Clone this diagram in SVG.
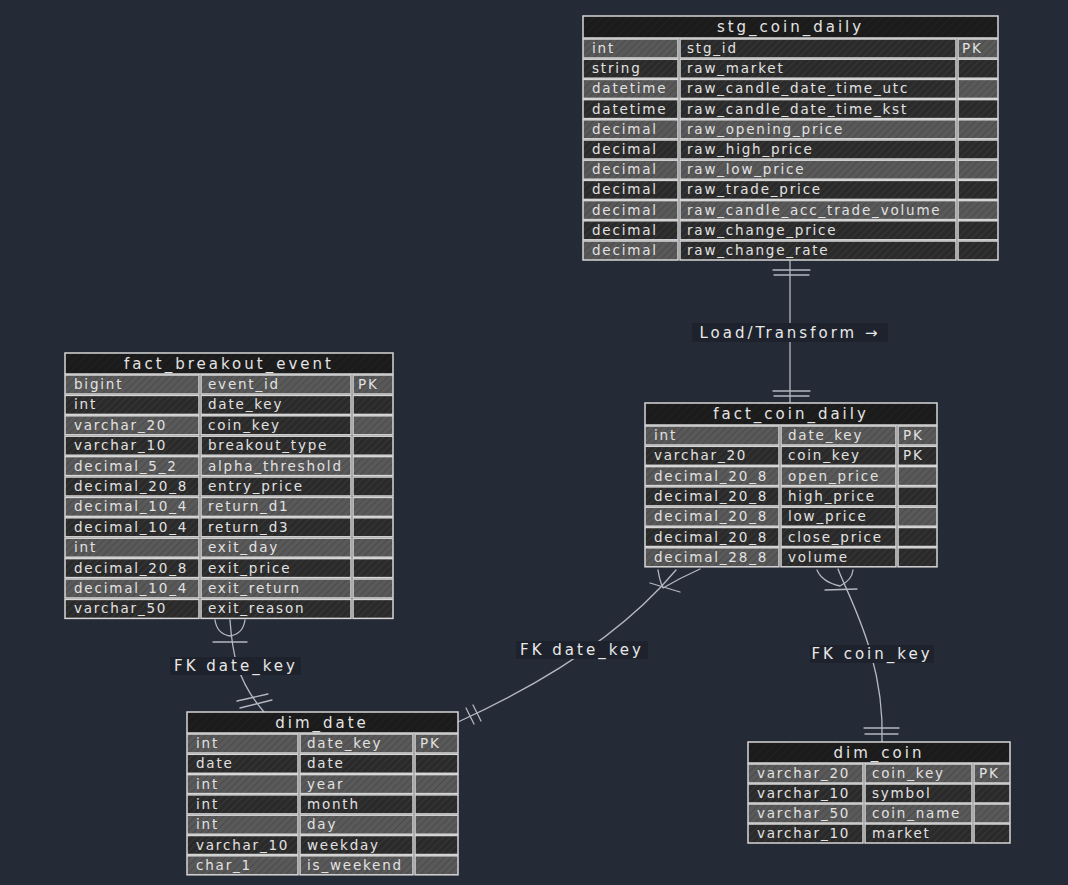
<svg xmlns="http://www.w3.org/2000/svg" width="1068" height="885" viewBox="0 0 1068 885">
<defs>
<pattern id="hl" patternUnits="userSpaceOnUse" width="5" height="5" patternTransform="rotate(45)"><rect width="5" height="5" fill="#595959"/><line x1="0" y1="0" x2="0" y2="5" stroke="#444444" stroke-width="1.4"/></pattern>
<pattern id="hd" patternUnits="userSpaceOnUse" width="5" height="5" patternTransform="rotate(45)"><rect width="5" height="5" fill="#2a2a2a"/><line x1="0" y1="0" x2="0" y2="5" stroke="#3d3d3d" stroke-width="1.3"/></pattern>
<pattern id="hh" patternUnits="userSpaceOnUse" width="6" height="6" patternTransform="rotate(45)"><rect width="6" height="6" fill="#1b1b1b"/><line x1="0" y1="0" x2="0" y2="6" stroke="#242424" stroke-width="1.2"/></pattern>
</defs>
<style>
.h{fill:url(#hh);stroke:#d6d6d6;stroke-width:1.5}
.l{fill:url(#hl);stroke:#d6d6d6;stroke-width:1.5}
.d{fill:url(#hd);stroke:#d6d6d6;stroke-width:1.5}
.t{font-family:"DejaVu Sans",sans-serif;font-size:13.5px;letter-spacing:1.8px;fill:#e2e2e2}
.th{font-family:"DejaVu Sans",sans-serif;font-size:15px;letter-spacing:3px;fill:#e4e4e4;text-anchor:middle}
.lb{font-family:"DejaVu Sans",sans-serif;font-size:15px;letter-spacing:3px;fill:#e8e8e8;text-anchor:middle}
.lbg{fill:#1e222c}
.c{fill:none;stroke:#b4b8c0;stroke-width:1.3;stroke-linecap:round}
</style>
<rect width="1068" height="885" fill="#252a37"/>

<g id="connectors">
<path class="c" d="M790,261 L790,403"/>
<path class="c" d="M773,270 H810 M774,275 H809 M773,391 H810 M774,396 H809"/>
<path class="c" d="M230,620 C232,650 236,680 264,712"/>
<path class="c" d="M215,620 Q217,634 230,636 Q243,634 245,620 M213,642 L247,642 M237,701 L268,694 M240,708 L272,700"/>
<path class="c" d="M676,570 Q605,655 458,722"/>
<path class="c" d="M658,570 Q660,582 663,588 M700,569 Q680,578 663,588 M650,583 L680,592 M466,708 L474,724 M473,705 L481,721"/>
<path class="c" d="M838,569 C850,600 885,660 882,742"/>
<path class="c" d="M817,570 Q822,582 840,586 M853,570 Q852,580 840,586 M825,590 L857,589 M864,728 L899,728 M865,734 L898,734"/>
<rect class="lbg" x="692" y="323" width="196" height="19"/>
<text class="lb" x="790" y="337.5">Load/Transform →</text>
<rect class="lbg" x="170" y="657" width="131" height="18"/>
<text class="lb" x="236" y="671">FK date_key</text>
<rect class="lbg" x="516" y="641" width="132" height="18"/>
<text class="lb" x="582" y="655">FK date_key</text>
<rect class="lbg" x="810" y="645" width="124" height="18"/>
<text class="lb" x="872" y="659">FK coin_key</text>
</g>

<g id="stg_coin_daily">
<rect class="h" x="583" y="16" width="415" height="22"/>
<text class="th" x="790.5" y="32">stg_coin_daily</text>
<rect class="l" x="583" y="39" width="95" height="19"/><rect class="d" x="680" y="39" width="276" height="19"/><rect class="l" x="958" y="39" width="40" height="19"/>
<text class="t" x="592" y="53">int</text><text class="t" x="687" y="53">stg_id</text><text class="t" x="962" y="53">PK</text>
<rect class="d" x="583" y="59.2" width="95" height="19"/><rect class="d" x="680" y="59.2" width="276" height="19"/><rect class="d" x="958" y="59.2" width="40" height="19"/>
<text class="t" x="592" y="73.2">string</text><text class="t" x="687" y="73.2">raw_market</text>
<rect class="l" x="583" y="79.4" width="95" height="19"/><rect class="d" x="680" y="79.4" width="276" height="19"/><rect class="l" x="958" y="79.4" width="40" height="19"/>
<text class="t" x="592" y="93.4">datetime</text><text class="t" x="687" y="93.4">raw_candle_date_time_utc</text>
<rect class="d" x="583" y="99.6" width="95" height="19"/><rect class="d" x="680" y="99.6" width="276" height="19"/><rect class="d" x="958" y="99.6" width="40" height="19"/>
<text class="t" x="592" y="113.6">datetime</text><text class="t" x="687" y="113.6">raw_candle_date_time_kst</text>
<rect class="l" x="583" y="119.8" width="95" height="19"/><rect class="l" x="680" y="119.8" width="276" height="19"/><rect class="l" x="958" y="119.8" width="40" height="19"/>
<text class="t" x="592" y="133.8">decimal</text><text class="t" x="687" y="133.8">raw_opening_price</text>
<rect class="d" x="583" y="140" width="95" height="19"/><rect class="d" x="680" y="140" width="276" height="19"/><rect class="d" x="958" y="140" width="40" height="19"/>
<text class="t" x="592" y="154">decimal</text><text class="t" x="687" y="154">raw_high_price</text>
<rect class="l" x="583" y="160.2" width="95" height="19"/><rect class="l" x="680" y="160.2" width="276" height="19"/><rect class="l" x="958" y="160.2" width="40" height="19"/>
<text class="t" x="592" y="174.2">decimal</text><text class="t" x="687" y="174.2">raw_low_price</text>
<rect class="d" x="583" y="180.4" width="95" height="19"/><rect class="d" x="680" y="180.4" width="276" height="19"/><rect class="d" x="958" y="180.4" width="40" height="19"/>
<text class="t" x="592" y="194.4">decimal</text><text class="t" x="687" y="194.4">raw_trade_price</text>
<rect class="l" x="583" y="200.6" width="95" height="19"/><rect class="l" x="680" y="200.6" width="276" height="19"/><rect class="l" x="958" y="200.6" width="40" height="19"/>
<text class="t" x="592" y="214.6">decimal</text><text class="t" x="687" y="214.6">raw_candle_acc_trade_volume</text>
<rect class="d" x="583" y="220.8" width="95" height="19"/><rect class="d" x="680" y="220.8" width="276" height="19"/><rect class="d" x="958" y="220.8" width="40" height="19"/>
<text class="t" x="592" y="234.8">decimal</text><text class="t" x="687" y="234.8">raw_change_price</text>
<rect class="l" x="583" y="241" width="95" height="19"/><rect class="d" x="680" y="241" width="276" height="19"/><rect class="d" x="958" y="241" width="40" height="19"/>
<text class="t" x="592" y="255">decimal</text><text class="t" x="687" y="255">raw_change_rate</text>
</g>

<g id="fact_breakout_event">
<rect class="h" x="65" y="353" width="328" height="21"/>
<text class="th" x="229" y="368.5">fact_breakout_event</text>
<rect class="l" x="65" y="375" width="134" height="19"/><rect class="l" x="201" y="375" width="150" height="19"/><rect class="l" x="353" y="375" width="40" height="19"/>
<text class="t" x="74" y="389">bigint</text><text class="t" x="208" y="389">event_id</text><text class="t" x="358" y="389">PK</text>
<rect class="d" x="65" y="395.4" width="134" height="19"/><rect class="d" x="201" y="395.4" width="150" height="19"/><rect class="d" x="353" y="395.4" width="40" height="19"/>
<text class="t" x="74" y="409.4">int</text><text class="t" x="208" y="409.4">date_key</text>
<rect class="l" x="65" y="415.8" width="134" height="19"/><rect class="d" x="201" y="415.8" width="150" height="19"/><rect class="l" x="353" y="415.8" width="40" height="19"/>
<text class="t" x="74" y="429.8">varchar_20</text><text class="t" x="208" y="429.8">coin_key</text>
<rect class="d" x="65" y="436.2" width="134" height="19"/><rect class="d" x="201" y="436.2" width="150" height="19"/><rect class="d" x="353" y="436.2" width="40" height="19"/>
<text class="t" x="74" y="450.2">varchar_10</text><text class="t" x="208" y="450.2">breakout_type</text>
<rect class="l" x="65" y="456.6" width="134" height="19"/><rect class="l" x="201" y="456.6" width="150" height="19"/><rect class="l" x="353" y="456.6" width="40" height="19"/>
<text class="t" x="74" y="470.6">decimal_5_2</text><text class="t" x="208" y="470.6">alpha_threshold</text>
<rect class="d" x="65" y="477" width="134" height="19"/><rect class="d" x="201" y="477" width="150" height="19"/><rect class="d" x="353" y="477" width="40" height="19"/>
<text class="t" x="74" y="491">decimal_20_8</text><text class="t" x="208" y="491">entry_price</text>
<rect class="l" x="65" y="497.4" width="134" height="19"/><rect class="l" x="201" y="497.4" width="150" height="19"/><rect class="l" x="353" y="497.4" width="40" height="19"/>
<text class="t" x="74" y="511.4">decimal_10_4</text><text class="t" x="208" y="511.4">return_d1</text>
<rect class="d" x="65" y="517.8" width="134" height="19"/><rect class="d" x="201" y="517.8" width="150" height="19"/><rect class="d" x="353" y="517.8" width="40" height="19"/>
<text class="t" x="74" y="531.8">decimal_10_4</text><text class="t" x="208" y="531.8">return_d3</text>
<rect class="l" x="65" y="538.2" width="134" height="19"/><rect class="l" x="201" y="538.2" width="150" height="19"/><rect class="l" x="353" y="538.2" width="40" height="19"/>
<text class="t" x="74" y="552.2">int</text><text class="t" x="208" y="552.2">exit_day</text>
<rect class="d" x="65" y="558.6" width="134" height="19"/><rect class="d" x="201" y="558.6" width="150" height="19"/><rect class="d" x="353" y="558.6" width="40" height="19"/>
<text class="t" x="74" y="572.6">decimal_20_8</text><text class="t" x="208" y="572.6">exit_price</text>
<rect class="l" x="65" y="579" width="134" height="19"/><rect class="l" x="201" y="579" width="150" height="19"/><rect class="l" x="353" y="579" width="40" height="19"/>
<text class="t" x="74" y="593">decimal_10_4</text><text class="t" x="208" y="593">exit_return</text>
<rect class="d" x="65" y="599.4" width="134" height="19"/><rect class="d" x="201" y="599.4" width="150" height="19"/><rect class="d" x="353" y="599.4" width="40" height="19"/>
<text class="t" x="74" y="613.4">varchar_50</text><text class="t" x="208" y="613.4">exit_reason</text>
</g>

<g id="fact_coin_daily">
<rect class="h" x="645" y="403" width="292" height="22"/>
<text class="th" x="791" y="419">fact_coin_daily</text>
<rect class="l" x="645" y="426" width="134" height="19"/><rect class="l" x="781" y="426" width="115" height="19"/><rect class="l" x="898" y="426" width="39" height="19"/>
<text class="t" x="654" y="440">int</text><text class="t" x="788" y="440">date_key</text><text class="t" x="903" y="440">PK</text>
<rect class="d" x="645" y="446.3" width="134" height="19"/><rect class="d" x="781" y="446.3" width="115" height="19"/><rect class="d" x="898" y="446.3" width="39" height="19"/>
<text class="t" x="654" y="460.3">varchar_20</text><text class="t" x="788" y="460.3">coin_key</text><text class="t" x="903" y="460.3">PK</text>
<rect class="l" x="645" y="466.6" width="134" height="19"/><rect class="l" x="781" y="466.6" width="115" height="19"/><rect class="l" x="898" y="466.6" width="39" height="19"/>
<text class="t" x="654" y="480.6">decimal_20_8</text><text class="t" x="788" y="480.6">open_price</text>
<rect class="d" x="645" y="486.9" width="134" height="19"/><rect class="d" x="781" y="486.9" width="115" height="19"/><rect class="d" x="898" y="486.9" width="39" height="19"/>
<text class="t" x="654" y="500.9">decimal_20_8</text><text class="t" x="788" y="500.9">high_price</text>
<rect class="l" x="645" y="507.2" width="134" height="19"/><rect class="d" x="781" y="507.2" width="115" height="19"/><rect class="l" x="898" y="507.2" width="39" height="19"/>
<text class="t" x="654" y="521.2">decimal_20_8</text><text class="t" x="788" y="521.2">low_price</text>
<rect class="d" x="645" y="527.5" width="134" height="19"/><rect class="d" x="781" y="527.5" width="115" height="19"/><rect class="d" x="898" y="527.5" width="39" height="19"/>
<text class="t" x="654" y="541.5">decimal_20_8</text><text class="t" x="788" y="541.5">close_price</text>
<rect class="l" x="645" y="547.8" width="134" height="19"/><rect class="d" x="781" y="547.8" width="115" height="19"/><rect class="d" x="898" y="547.8" width="39" height="19"/>
<text class="t" x="654" y="561.8">decimal_28_8</text><text class="t" x="788" y="561.8">volume</text>
</g>

<g id="dim_date">
<rect class="h" x="187" y="712" width="271" height="21"/>
<text class="th" x="322" y="727.5">dim_date</text>
<rect class="l" x="187" y="734" width="111" height="19"/><rect class="l" x="300" y="734" width="113" height="19"/><rect class="l" x="415" y="734" width="43" height="19"/>
<text class="t" x="196" y="748">int</text><text class="t" x="307" y="748">date_key</text><text class="t" x="420" y="748">PK</text>
<rect class="d" x="187" y="754.3" width="111" height="19"/><rect class="d" x="300" y="754.3" width="113" height="19"/><rect class="d" x="415" y="754.3" width="43" height="19"/>
<text class="t" x="196" y="768.3">date</text><text class="t" x="307" y="768.3">date</text>
<rect class="l" x="187" y="774.6" width="111" height="19"/><rect class="l" x="300" y="774.6" width="113" height="19"/><rect class="l" x="415" y="774.6" width="43" height="19"/>
<text class="t" x="196" y="788.6">int</text><text class="t" x="307" y="788.6">year</text>
<rect class="d" x="187" y="794.9" width="111" height="19"/><rect class="d" x="300" y="794.9" width="113" height="19"/><rect class="d" x="415" y="794.9" width="43" height="19"/>
<text class="t" x="196" y="808.9">int</text><text class="t" x="307" y="808.9">month</text>
<rect class="l" x="187" y="815.2" width="111" height="19"/><rect class="l" x="300" y="815.2" width="113" height="19"/><rect class="l" x="415" y="815.2" width="43" height="19"/>
<text class="t" x="196" y="829.2">int</text><text class="t" x="307" y="829.2">day</text>
<rect class="d" x="187" y="835.5" width="111" height="19"/><rect class="d" x="300" y="835.5" width="113" height="19"/><rect class="d" x="415" y="835.5" width="43" height="19"/>
<text class="t" x="196" y="849.5">varchar_10</text><text class="t" x="307" y="849.5">weekday</text>
<rect class="l" x="187" y="855.8" width="111" height="19"/><rect class="l" x="300" y="855.8" width="113" height="19"/><rect class="l" x="415" y="855.8" width="43" height="19"/>
<text class="t" x="196" y="869.8">char_1</text><text class="t" x="307" y="869.8">is_weekend</text>
</g>

<g id="dim_coin">
<rect class="h" x="748" y="742" width="262" height="21"/>
<text class="th" x="879" y="757.5">dim_coin</text>
<rect class="l" x="748" y="764" width="115" height="19"/><rect class="l" x="865" y="764" width="107" height="19"/><rect class="l" x="974" y="764" width="36" height="19"/>
<text class="t" x="757" y="778">varchar_20</text><text class="t" x="872" y="778">coin_key</text><text class="t" x="979" y="778">PK</text>
<rect class="d" x="748" y="784" width="115" height="19"/><rect class="d" x="865" y="784" width="107" height="19"/><rect class="d" x="974" y="784" width="36" height="19"/>
<text class="t" x="757" y="798">varchar_10</text><text class="t" x="872" y="798">symbol</text>
<rect class="l" x="748" y="804" width="115" height="19"/><rect class="l" x="865" y="804" width="107" height="19"/><rect class="l" x="974" y="804" width="36" height="19"/>
<text class="t" x="757" y="818">varchar_50</text><text class="t" x="872" y="818">coin_name</text>
<rect class="d" x="748" y="824" width="115" height="19"/><rect class="d" x="865" y="824" width="107" height="19"/><rect class="d" x="974" y="824" width="36" height="19"/>
<text class="t" x="757" y="838">varchar_10</text><text class="t" x="872" y="838">market</text>
</g>
</svg>
